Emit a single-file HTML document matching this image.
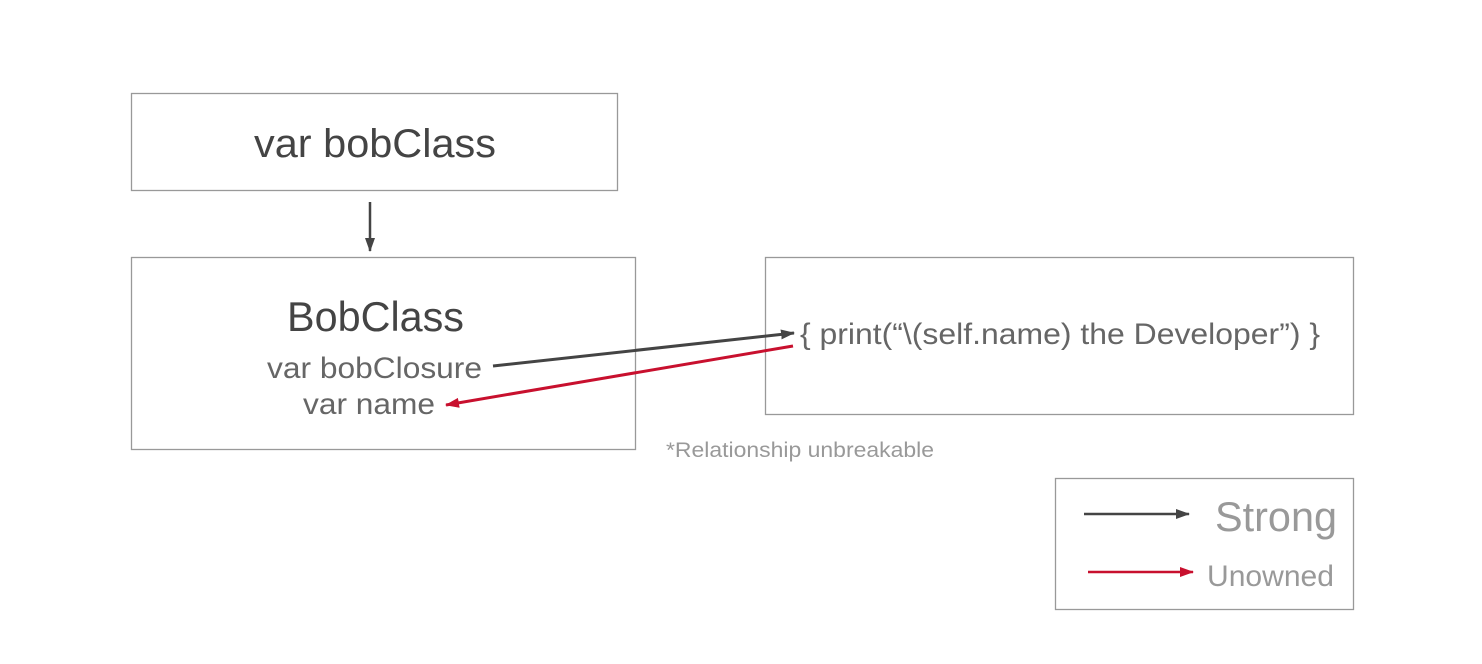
<!DOCTYPE html>
<html><head><meta charset="utf-8"><style>
html,body{margin:0;padding:0;background:#fff;}
svg{display:block;}
text{font-family:"Liberation Sans",sans-serif;}
</style></head><body>
<svg width="1482" height="664" viewBox="0 0 1482 664" xmlns="http://www.w3.org/2000/svg">
<defs>
<marker id="ab" markerWidth="14" markerHeight="10" refX="13" refY="5" orient="auto" markerUnits="userSpaceOnUse" viewBox="0 0 14 10"><path d="M0,0 L14,5 L0,10 z" fill="#444"/></marker>
<marker id="ar" markerWidth="14" markerHeight="10" refX="13" refY="5" orient="auto" markerUnits="userSpaceOnUse" viewBox="0 0 14 10"><path d="M0,0 L14,5 L0,10 z" fill="#c8102e"/></marker>
</defs>
<g fill="none" stroke="#999" stroke-width="1.3">
<rect x="131.5" y="93.5" width="486" height="97"/>
<rect x="131.5" y="257.5" width="504" height="192"/>
<rect x="765.5" y="257.5" width="588" height="157"/>
<rect x="1055.5" y="478.5" width="298" height="131"/>
</g>
<text x="254" y="157" font-size="40" fill="#444" textLength="242" lengthAdjust="spacingAndGlyphs">var bobClass</text>
<text x="287" y="331" font-size="42" fill="#444" textLength="177" lengthAdjust="spacingAndGlyphs">BobClass</text>
<text x="267" y="378" font-size="30" fill="#666" textLength="215" lengthAdjust="spacingAndGlyphs">var bobClosure</text>
<text x="303" y="414" font-size="30" fill="#666" textLength="132" lengthAdjust="spacingAndGlyphs">var name</text>
<text x="800" y="344" font-size="30" fill="#666" textLength="520" lengthAdjust="spacingAndGlyphs">{ print(“\(self.name) the Developer”) }</text>
<text x="666" y="457" font-size="21" fill="#999" textLength="268" lengthAdjust="spacingAndGlyphs">*Relationship unbreakable</text>
<text x="1215" y="531" font-size="42" fill="#999" textLength="122" lengthAdjust="spacingAndGlyphs">Strong</text>
<text x="1207" y="586" font-size="30" fill="#999" textLength="127" lengthAdjust="spacingAndGlyphs">Unowned</text>
<line x1="370" y1="202" x2="370" y2="251" stroke="#444" stroke-width="2.5" marker-end="url(#ab)"/>
<line x1="493" y1="366" x2="794" y2="333" stroke="#444" stroke-width="3" marker-end="url(#ab)"/>
<line x1="793" y1="346" x2="446" y2="405" stroke="#c8102e" stroke-width="3" marker-end="url(#ar)"/>
<line x1="1084" y1="514" x2="1189" y2="514" stroke="#444" stroke-width="2.5" marker-end="url(#ab)"/>
<line x1="1088" y1="572" x2="1193" y2="572" stroke="#c8102e" stroke-width="2.5" marker-end="url(#ar)"/>
</svg>
</body></html>
